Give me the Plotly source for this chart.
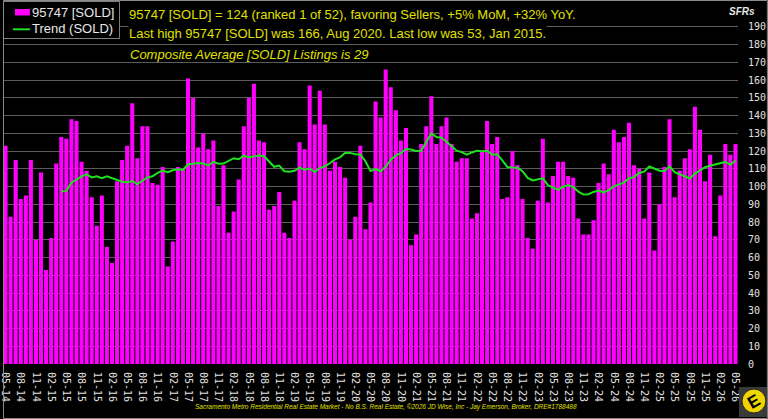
import plotly.graph_objects as go
import pandas as pd

# ---- data -------------------------------------------------------------
months = pd.date_range("2014-05-01", "2026-05-01", freq="MS").strftime("%m-%y").tolist()

sold = [123, 83, 115, 93, 95, 115, 70, 108, 53, 71, 113, 128,
        127, 138, 137, 114, 109, 94, 78, 95, 66, 57, 103, 115,
        123, 147, 116, 134, 134, 102, 101, 111, 55, 69, 111, 110,
        161, 150, 122, 130, 121, 126, 89, 112, 74, 86, 104, 134,
        150, 158, 126, 125, 87, 89, 97, 74, 71, 92, 125, 121,
        157, 135, 154, 135, 109, 114, 111, 105, 70, 83, 123, 76,
        91, 148, 139, 166, 156, 143, 126, 133, 67, 73, 124, 134,
        151, 124, 134, 139, 124, 114, 116, 116, 82, 85, 120, 137,
        124, 128, 93, 94, 120, 112, 93, 71, 65, 92, 127, 91,
        106, 114, 114, 106, 105, 82, 73, 73, 81, 102, 113, 107,
        132, 125, 128, 136, 112, 110, 82, 108, 64, 90, 111, 138,
        94, 109, 116, 121, 145, 132, 103, 118, 72, 95, 124, 118,
        124]

trend_start = 11
trend = [97.25, 97.58, 102.17, 104.0, 105.75, 106.92, 105.17, 105.83, 104.75, 105.83,
         104.67, 103.83, 102.75, 102.42, 103.17, 101.42, 103.08, 105.17, 105.83, 107.75,
         109.08, 108.17, 109.17, 109.83, 109.42, 112.58, 112.83, 113.33, 113.0, 111.92,
         113.92, 112.92, 113.0, 114.58, 116.0, 115.42, 117.42, 116.5, 117.17, 117.5,
         117.08, 114.25, 111.17, 111.83, 108.67, 108.42, 108.92, 110.67, 109.58, 110.17,
         108.25, 110.58, 111.42, 113.25, 115.33, 116.5, 119.08, 119.0, 118.25, 118.08,
         114.33, 108.83, 109.92, 108.67, 111.25, 115.17, 117.58, 118.83, 121.17, 120.92,
         120.08, 120.17, 125.0, 130.0, 128.0, 127.58, 125.33, 122.67, 120.25, 119.42,
         118.0, 119.25, 120.25, 119.92, 120.17, 117.92, 118.25, 114.83, 111.08, 110.75,
         110.58, 108.67, 104.92, 103.5, 104.08, 104.67, 100.83, 99.33, 98.17, 99.92,
         100.92, 99.67, 97.17, 95.5, 95.67, 97.0, 97.83, 96.67, 98.0, 100.17,
         101.08, 102.25, 104.75, 105.33, 107.67, 108.42, 111.33, 109.92, 108.92, 108.75,
         111.33, 108.17, 106.83, 105.83, 104.58, 107.33, 109.17, 110.92, 111.75, 112.42,
         112.83, 113.92, 112.25, 114.75]

tick_labels = months[::3]
y_ticks = list(range(0, 200, 10))

series_names = ["95747 [SOLD]", "Trend (SOLD)"]
title_lines = [
    "95747 [SOLD] = 124 (ranked 1 of 52), favoring Sellers, +5% MoM, +32% YoY.",
    "Last high 95747 [SOLD] was 166, Aug 2020. Last low was 53, Jan 2015.",
]
subtitle = "Composite Average [SOLD] Listings is 29"
footer = ("Sacramento Metro Residential Real Estate Market - No B.S. Real Estate, "
          "\u00a92026 JD Wise, Inc - Jay Emerson, Broker, DRE#1788488")

# ---- figure -----------------------------------------------------------
W, H = 768, 419
ML, MR, MT, MB = 0, 30, 0, 55
PW, PH = W - ML - MR, H - MT - MB


def px(x):
    return (x - ML) / PW


def py(y):
    return 1 - (y - MT) / PH


YEL = "#e0e000"
MONO = "DejaVu Sans Mono"
SANS = "Liberation Sans, Arial, sans-serif"
BAR_COLOR = "#ff00ff"
TREND_COLOR = "#1fe01f"

fig = go.Figure()
fig.add_trace(go.Bar(
    x=months, y=sold, name=series_names[0],
    marker=dict(color=BAR_COLOR, line=dict(width=0)),
))
fig.add_trace(go.Scatter(
    x=months[trend_start:], y=trend, name=series_names[1], mode="lines",
    line=dict(color=TREND_COLOR, width=2),
))

fig.update_layout(
    width=W, height=H,
    margin=dict(l=ML, r=MR, t=MT, b=MB, pad=0),
    paper_bgcolor="black", plot_bgcolor="black",
    bargap=0.2,
    showlegend=False,
    xaxis=dict(
        type="category", range=[-0.5, len(months) - 0.5],
        tickmode="array", tickvals=tick_labels, ticktext=tick_labels,
        tickangle=90, ticks="outside", ticklen=5, tickcolor="black",
        tickfont=dict(family=MONO, size=10, color="#e0e0e0"),
        showgrid=False, showline=False, zeroline=False,
    ),
    yaxis=dict(
        side="right", range=[0, PH / 1.774],
        tickmode="array", tickvals=y_ticks,
        ticks="outside", ticklen=7, tickcolor="black",
        tickfont=dict(family=MONO, size=10, color="#e0e0e0"),
        showgrid=True, gridcolor="#5c5c5c", gridwidth=1,
        zeroline=False, showline=False,
    ),
)

ann = []
# legend texts
for name, yy in zip(series_names, [12.5, 29]):
    ann.append(dict(text=name, x=px(27), y=py(yy), xref="paper", yref="paper",
                    xanchor="left", yanchor="middle", showarrow=False,
                    font=dict(family=SANS, size=13, color="#e8e8e8")))
for t, yy in zip(title_lines, [15, 33]):
    ann.append(dict(text=t, x=px(126), y=py(yy), xref="paper", yref="paper",
                    xanchor="left", yanchor="middle", showarrow=False,
                    font=dict(family=SANS, size=13, color=YEL),
                    bgcolor="black", borderpad=0))
ann.append(dict(text="<i>" + subtitle + "</i>", x=px(126), y=py(54), xref="paper", yref="paper",
                xanchor="left", yanchor="middle", showarrow=False,
                font=dict(family=SANS, size=13, color=YEL)))
ann.append(dict(text="<i>" + footer + "</i>", x=px(385), y=py(407), xref="paper", yref="paper",
                xanchor="center", yanchor="middle", showarrow=False,
                font=dict(family=SANS, size=6.5, color=YEL)))
ann.append(dict(text="<b><i>SFRs</i></b>", x=px(742), y=py(11), xref="paper", yref="paper",
                xanchor="center", yanchor="middle", showarrow=False,
                font=dict(family=SANS, size=10, color="#e8e8e8")))
ann.append(dict(text="<b>E</b>", x=px(754), y=py(401), xref="paper", yref="paper",
                xanchor="center", yanchor="middle", showarrow=False, textangle=-30,
                font=dict(family=SANS, size=17, color="black")))
fig.update_layout(annotations=ann)

shapes = [
    # legend box and swatches
    dict(type="rect", xref="paper", yref="paper", x0=px(0.5), x1=px(117), y0=py(38.5), y1=py(1.5),
         fillcolor="black", line=dict(color="#808080", width=1), layer="above"),
    dict(type="rect", xref="paper", yref="paper", x0=px(12), x1=px(27), y0=py(15.5), y1=py(9),
         fillcolor=BAR_COLOR, line=dict(width=0), layer="above"),
    dict(type="line", xref="paper", yref="paper", x0=px(10), x1=px(27), y0=py(29.3), y1=py(29.3),
         line=dict(color=TREND_COLOR, width=2), layer="above"),
    # logo
    dict(type="rect", xref="paper", yref="paper", x0=px(739), x1=px(767), y0=py(417), y1=py(387),
         fillcolor="#3a3a3a", line=dict(width=0), layer="above"),
    dict(type="circle", xref="paper", yref="paper", x0=px(742), x1=px(766), y0=py(413), y1=py(389),
         fillcolor="#f0d400", line=dict(color="#222", width=1), layer="above"),
    # outer frame
    dict(type="rect", xref="paper", yref="paper", x0=px(0.5), x1=px(767.5), y0=py(418.5), y1=py(0.5),
         line=dict(color="#8a8a8a", width=1), fillcolor="rgba(0,0,0,0)", layer="above"),
]
fig.update_layout(shapes=shapes)

fig.write_html("out.html")
